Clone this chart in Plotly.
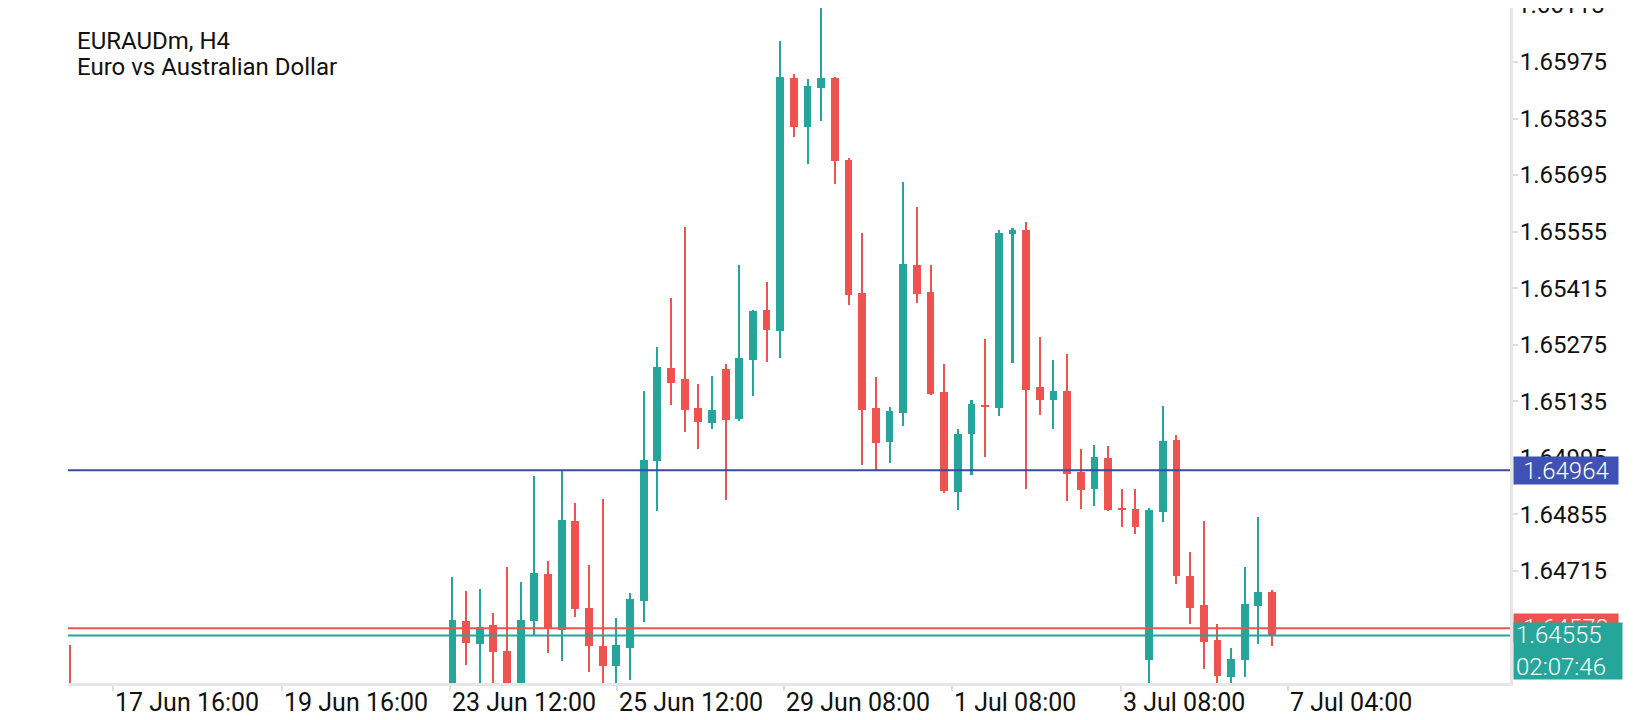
import plotly.graph_objects as go

# EURAUDm H4 candles; index 0 is the 23 Jun 12:00 bar
bar_idx = [-28] + list(range(0, 61))
opens = [1.64420,
         1.64420, 1.64591, 1.64534, 1.64581, 1.64516, 1.64425, 1.64591, 1.64708, 1.64568, 1.64838,
         1.64623, 1.64529, 1.64480, 1.64525, 1.64641, 1.64987, 1.65217, 1.65190, 1.65118, 1.65082,
         1.65215, 1.65092, 1.65238, 1.65361, 1.65310, 1.65935, 1.65815, 1.65911, 1.65935, 1.65732,
         1.65403, 1.65118, 1.65035, 1.65107, 1.65472, 1.65405, 1.65158, 1.64911, 1.65054, 1.65126,
         1.65119, 1.65550, 1.65559, 1.65170, 1.65139, 1.65160, 1.64960, 1.64918, 1.64994, 1.64872,
         1.64868, 1.64495, 1.64861, 1.65039, 1.64702, 1.64630, 1.64544, 1.64453, 1.64495, 1.64629,
         1.64662]
highs = [1.64531,
         1.64700, 1.64665, 1.64670, 1.64611, 1.64725, 1.64687, 1.64950, 1.64739, 1.64965, 1.64882,
         1.64730, 1.64893, 1.64598, 1.64661, 1.65160, 1.65269, 1.65391, 1.65566, 1.65178, 1.65197,
         1.65227, 1.65472, 1.65360, 1.65430, 1.66027, 1.65945, 1.65933, 1.66119, 1.65937, 1.65737,
         1.65552, 1.65195, 1.65121, 1.65678, 1.65616, 1.65472, 1.65227, 1.65066, 1.65138, 1.65289,
         1.65559, 1.65564, 1.65579, 1.65294, 1.65237, 1.65253, 1.65017, 1.65027, 1.65024, 1.64918,
         1.64918, 1.64871, 1.65123, 1.65051, 1.64763, 1.64838, 1.64583, 1.64524, 1.64724, 1.64848,
         1.64669]
lows = [1.64370,
        1.64390, 1.64482, 1.64410, 1.64410, 1.64395, 1.64405, 1.64556, 1.64511, 1.64492, 1.64601,
        1.64465, 1.64415, 1.64420, 1.64446, 1.64588, 1.64864, 1.65126, 1.65059, 1.65017, 1.65067,
        1.64890, 1.65087, 1.65149, 1.65233, 1.65243, 1.65790, 1.65723, 1.65830, 1.65674, 1.65374,
        1.64978, 1.64966, 1.64983, 1.65074, 1.65379, 1.65150, 1.64908, 1.64867, 1.64953, 1.64998,
        1.65099, 1.65229, 1.64918, 1.65102, 1.65067, 1.64889, 1.64869, 1.64876, 1.64864, 1.64824,
        1.64807, 1.64420, 1.64837, 1.64683, 1.64584, 1.64473, 1.64425, 1.64425, 1.64453, 1.64534,
        1.64530]
closes = [1.64390,
          1.64593, 1.64537, 1.64576, 1.64515, 1.64420, 1.64593, 1.64710, 1.64572, 1.64841, 1.64621,
          1.64529, 1.64480, 1.64531, 1.64645, 1.64989, 1.65220, 1.65181, 1.65114, 1.65084, 1.65113,
          1.65089, 1.65242, 1.65358, 1.65312, 1.65938, 1.65815, 1.65916, 1.65935, 1.65731, 1.65399,
          1.65114, 1.65032, 1.65111, 1.65475, 1.65401, 1.65153, 1.64913, 1.65054, 1.65128, 1.65122,
          1.65552, 1.65559, 1.65164, 1.65139, 1.65161, 1.64955, 1.64916, 1.64997, 1.64866, 1.64868,
          1.64824, 1.64866, 1.65036, 1.64703, 1.64624, 1.64539, 1.64455, 1.64497, 1.64633, 1.64662,
          1.64555]

time_ticks = [-24.85, -12.5, -0.2, 12.05, 24.3, 36.6, 48.95, 61.2]
time_labels = ['17 Jun 16:00', '19 Jun 16:00', '23 Jun 12:00', '25 Jun 12:00',
               '29 Jun 08:00', '1 Jul 08:00', '3 Jul 08:00', '7 Jul 04:00']
price_ticks = [1.66115, 1.65975, 1.65835, 1.65695, 1.65555, 1.65415,
               1.65275, 1.65135, 1.64995, 1.64855, 1.64715, 1.64575]
top_price_label = '1.66115'  # sits just above the visible range, half cut in the original

level_price = 1.64964
ask_price = 1.64573
bid_price = 1.64555
countdown = '02:07:46'

UP = '#26a69a'
DOWN = '#ef5350'
BLUE = '#3f51b5'
FONT = 'Roboto'
tag_font = dict(family=FONT, size=24, color='white', weight=300)

colors = [UP if c >= o else DOWN for o, c in zip(opens, closes)]
body_base = [min(o, c) for o, c in zip(opens, closes)]
body_len = [max(abs(c - o), 0.00003) for o, c in zip(opens, closes)]

fig = go.Figure()
# wicks first, bodies on top
fig.add_trace(go.Bar(x=bar_idx, y=[h - l for h, l in zip(highs, lows)], base=lows,
                     width=0.15, marker=dict(color=colors, line=dict(width=0)),
                     hoverinfo='skip'))
fig.add_trace(go.Bar(x=bar_idx, y=body_len, base=body_base,
                     width=0.57, marker=dict(color=colors, line=dict(width=0)),
                     hoverinfo='skip'))

# price level lines
fig.add_hline(y=level_price, line=dict(color='#3a4a9e', width=2))
fig.add_hline(y=ask_price, line=dict(color=DOWN, width=2))
fig.add_hline(y=bid_price, line=dict(color=UP, width=2))

# top price label, cut by the page edge
fig.add_annotation(x=1, xref='paper', y=1, yref='paper', xanchor='left', yanchor='middle',
                   xshift=6, yshift=3, text=top_price_label, showarrow=False, borderpad=0,
                   font=dict(family=FONT, size=24, color='#111111'))

# right side price tags
fig.add_annotation(x=1, xref='paper', y=level_price, yref='y', xanchor='left', xshift=3,
                   text=f'{level_price:.5f}', showarrow=False, bgcolor=BLUE,
                   font=tag_font, width=100, height=23, borderpad=2)
fig.add_annotation(x=1, xref='paper', y=ask_price, yref='y', xanchor='left', xshift=3,
                   text=f'{ask_price:.5f}', showarrow=False, bgcolor=DOWN,
                   font=tag_font, width=100, height=24, borderpad=2)
fig.add_annotation(x=1, xref='paper', y=bid_price, yref='y', xanchor='left', yanchor='top',
                   xshift=3, yshift=14, text=f'{bid_price:.5f}<br>{countdown}', showarrow=False,
                   bgcolor=UP, align='left', valign='middle',
                   font=tag_font, width=104, height=52, borderpad=2)

# time labels, left aligned on their tick
for pos, lab in zip(time_ticks, time_labels):
    fig.add_annotation(x=pos, xref='x', y=0, yref='paper', xanchor='left', yanchor='top',
                       xshift=0, yshift=-3, text=lab, showarrow=False,
                       font=dict(family=FONT, size=25, color='#111111'))

# symbol title
fig.add_annotation(x=0, xref='paper', y=1, yref='paper', xanchor='left', yanchor='top',
                   xshift=7, yshift=-17, text='EURAUDm, H4', showarrow=False,
                   font=dict(family=FONT, size=24, color='#111111'))
fig.add_annotation(x=0, xref='paper', y=1, yref='paper', xanchor='left', yanchor='top',
                   xshift=7, yshift=-43, text='Euro vs Australian Dollar', showarrow=False,
                   font=dict(family=FONT, size=24, color='#111111'))

# the page body adds an 8px offset, so the figure is 8px smaller on each axis
fig.update_layout(
    width=1632, height=712,
    margin=dict(l=60, r=130, t=0, b=37, autoexpand=False),
    paper_bgcolor='white', plot_bgcolor='white',
    barmode='overlay', bargap=0, showlegend=False,
    font=dict(family=FONT, size=24, color='#111111'),
)
fig.update_xaxes(range=[-28.14, 77.42], tickvals=time_ticks, showticklabels=False,
                 ticks='outside', ticklen=5, tickwidth=2, tickcolor='#dddddd',
                 showline=True, linecolor='#e6e6e6', linewidth=3, mirror=False,
                 showgrid=False, zeroline=False, automargin=False)
fig.update_yaxes(range=[1.644375, 1.661087], side='right', tickvals=price_ticks,
                 tickformat='.5f', ticks='outside', ticklen=5, tickwidth=2,
                 tickcolor='#dddddd', showline=True, linecolor='#e6e6e6', linewidth=3,
                 showgrid=False, zeroline=False, automargin=False, ticklabelstandoff=-3,
                 ticklabeloverflow='allow', tickfont=dict(family=FONT, size=24))

fig.write_html("out.html")
